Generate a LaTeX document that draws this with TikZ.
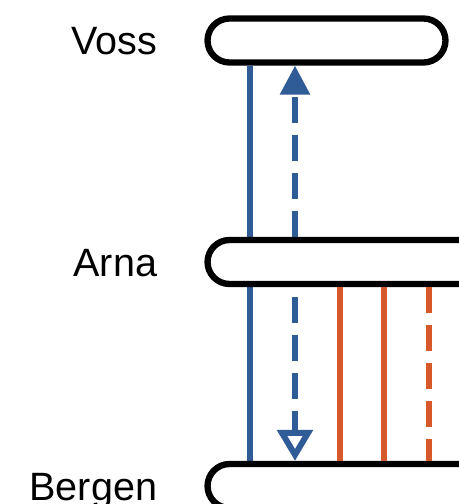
\documentclass[tikz,border=0pt]{standalone}
\usepackage{fontspec}
\setmainfont{Liberation Sans}
\usepackage{xcolor}
\usepackage{tikz}
\usetikzlibrary{positioning,arrows.meta,backgrounds}
\definecolor{lineblue}{HTML}{2F5B97}
\definecolor{lineorange}{HTML}{D5592B}
\tikzset{
    station/.style = {rectangle, rounded corners=0.44cm, minimum height=0.88cm, inner sep=0pt, draw=black, fill=white, line width=3.6pt},
    place/.style = {inner sep=0pt, text height=16pt, text depth=0pt, font=\fontsize{22.5}{26}\selectfont},
    blueline/.style = {draw=lineblue, line width=3.4pt},
    orangeline/.style = {draw=lineorange, line width=3.4pt},
    dashline/.style = {dash pattern=on 0.52cm off 0.24cm},
    uparrow/.style = {-{Triangle[width=0.58cm,length=0.58cm]}},
    downarrow/.style = {-{Triangle[open,width=0.7cm,length=0.62cm]}}
}

\begin{document}
\begin{tikzpicture}[x=0.02cm, y=-0.02cm]
\useasboundingbox (0,0) rectangle (458,504);
\node (voss) [station, minimum width=4.76cm] at (326.5,40.5) {};
\node (arna) [station, minimum width=8cm] at (407.5,262) {};
\node (bergen) [station, minimum width=8cm] at (407.5,486) {};
\node (vosslabel) [place, left=0.94cm of voss] {Voss};
\node (arnalabel) [place, left=0.94cm of arna] {Arna};
\node (bergenlabel) [place, left=0.94cm of bergen] {Bergen};

% x positions of the lines
\coordinate (blue1) at (250,0);
\coordinate (blue2) at (295,0);
\coordinate (orange1) at (340,0);
\coordinate (orange2) at (384,0);
\coordinate (orange3) at (429,0);

\begin{scope}[on background layer]
\draw [blueline] (voss.south -| blue1) -- (bergen.north -| blue1);
\end{scope}
\draw [blueline, dashline, uparrow] (arna.north -| blue2) -- (voss.south -| blue2);
\draw [blueline, dashline, dash phase=0.56cm, downarrow] (arna.south -| blue2) -- (bergen.north -| blue2);
\draw [orangeline] (arna.south -| orange1) -- (bergen.north -| orange1);
\draw [orangeline] (arna.south -| orange2) -- (bergen.north -| orange2);
\draw [orangeline, dashline] (arna.south -| orange3) -- (bergen.north -| orange3);
\end{tikzpicture}
\end{document}
